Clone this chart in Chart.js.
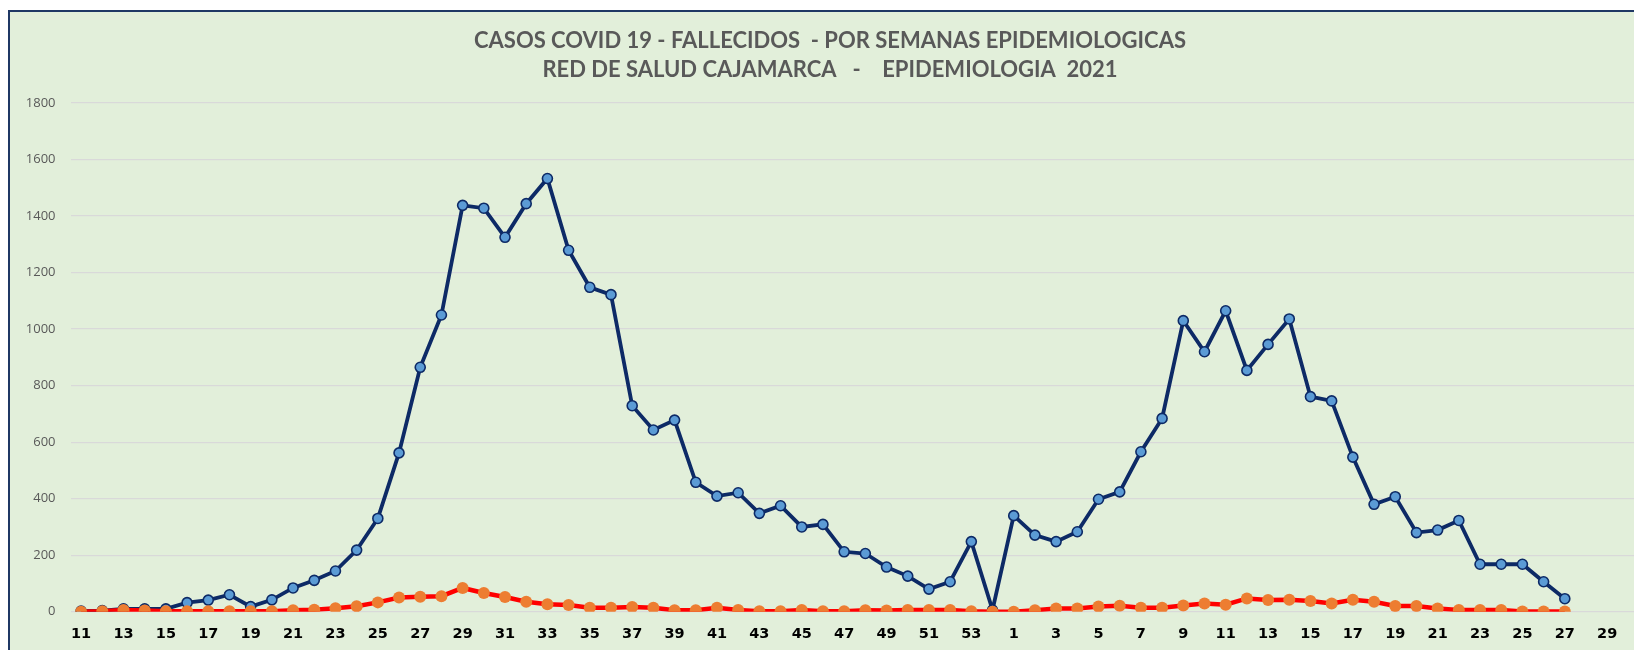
<!DOCTYPE html>
<html>
<head>
<meta charset="utf-8">
<script src="https://cdn.jsdelivr.net/npm/chart.js@4.4.0/dist/chart.umd.min.js"></script>
<style>
  html, body { margin: 0; padding: 0; background: #ffffff; overflow: hidden; width: 1634px; height: 650px; }
  .box {
    position: absolute; left: 8px; top: 10px;
    width: 1640px; height: 640px;
    background: #E2EFDA;
    border-top: 2px solid #1F3864;
    border-left: 2px solid #1F3864;
  }
  #chart { display: block; }
</style>
</head>
<body>
<div class="box"><canvas id="chart" width="1640" height="638"></canvas></div>
<script>
// semanas epidemiologicas: 11-53 (2020), un punto sin etiqueta, 1-30 (2021)
const weeks = ["11", "12", "13", "14", "15", "16", "17", "18", "19", "20",
  "21", "22", "23", "24", "25", "26", "27", "28", "29", "30",
  "31", "32", "33", "34", "35", "36", "37", "38", "39", "40",
  "41", "42", "43", "44", "45", "46", "47", "48", "49", "50",
  "51", "52", "53", "",
  "1", "2", "3", "4", "5", "6", "7", "8", "9", "10",
  "11", "12", "13", "14", "15", "16", "17", "18", "19", "20",
  "21", "22", "23", "24", "25", "26", "27", "28", "29", "30"];

const casos = [2, 4, 10, 10, 10, 32, 41, 60, 18, 42,
  84, 111, 144, 218, 330, 562, 865, 1050, 1438, 1428,
  1325, 1444, 1533, 1279, 1148, 1122, 729, 643, 678, 458,
  409, 421, 348, 375, 300, 309, 212, 206, 158, 126,
  80, 106, 248, 6,
  340, 271, 248, 283, 398, 424, 566, 684, 1030, 920,
  1065, 854, 946, 1036, 761, 746, 547, 380, 407, 280,
  289, 323, 168, 168, 168, 106, 46, null, null, null];

const fallecidos = [0, 2, 6, 4, 2, 2, 2, 2, 2, 2,
  5, 7, 12, 19, 33, 50, 53, 55, 84, 66,
  52, 35, 26, 24, 14, 14, 17, 14, 5, 5,
  14, 6, 2, 2, 6, 2, 2, 5, 4, 6,
  6, 6, 2, 0,
  0, 5, 11, 11, 18, 21, 14, 14, 22, 29,
  25, 47, 41, 42, 38, 29, 42, 35, 20, 20,
  11, 6, 6, 6, 1, 1, 1, null, null, null];

const yTicks = [0, 200, 400, 600, 800, 1000, 1200, 1400, 1600, 1800];

const titleLines = ["CASOS COVID 19 - FALLECIDOS  - POR SEMANAS EPIDEMIOLOGICAS",
  "RED DE SALUD CAJAMARCA   -    EPIDEMIOLOGIA  2021"];

const ctx = document.getElementById("chart").getContext("2d");
const chart = new Chart(ctx, {
  type: "line",
  data: {
    labels: weeks,
    datasets: [{
      label: "Casos",
      data: casos,
      order: 1,
      borderColor: "#0D2A66",
      borderWidth: 3.8,
      pointRadius: 5,
      pointBorderWidth: 1.6,
      pointBackgroundColor: "#5B9BD5",
      pointBorderColor: "#0D2A66",
      tension: 0
    }, {
      label: "Fallecidos",
      data: fallecidos,
      order: 0,
      borderColor: "#FF0000",
      borderWidth: 4.5,
      pointRadius: 6,
      pointBorderWidth: 0,
      pointBackgroundColor: "#ED7D31",
      pointBorderColor: "#ED7D31",
      tension: 0
    }]
  },
  options: {
    responsive: false,
    animation: false,
    layout: { padding: { left: 11, right: 11, top: 0, bottom: 0 } },
    plugins: {
      legend: { display: false },
      tooltip: { enabled: false },
      title: {
        display: true,
        text: titleLines,
        color: "#595959",
        font: { family: "Lato, 'Open Sans', sans-serif", size: 22, weight: "bold", lineHeight: 1.32 },
        padding: { top: 14.5, bottom: 18.5 }
      }
    },
    scales: {
      x: {
        offset: true,
        grid: { display: false, drawTicks: false },
        border: { display: false },
        ticks: {
          autoSkip: false,
          maxRotation: 0,
          padding: 14,
          color: "#000000",
          font: { family: "'DejaVu Sans', sans-serif", size: 14.5, weight: "bold" },
          callback: function (value, index) {
            return index % 2 === 0 ? weeks[index] : "";
          }
        },
        afterFit: function (scale) { scale.height = 38.3; }
      },
      y: {
        min: 0,
        max: 1800,
        afterBuildTicks: function (scale) {
          scale.ticks = yTicks.map(function (v) { return { value: v }; });
        },
        grid: { color: "#D9D9D9", lineWidth: 1.3, drawTicks: false },
        border: { display: false },
        ticks: {
          padding: 15,
          color: "#595959",
          font: { family: "'Open Sans', sans-serif", size: 13 },
          callback: function (value) { return String(value); }
        },
        afterFit: function (scale) { scale.width = 49.5; }
      }
    }
  }
});
</script>
</body>
</html>
